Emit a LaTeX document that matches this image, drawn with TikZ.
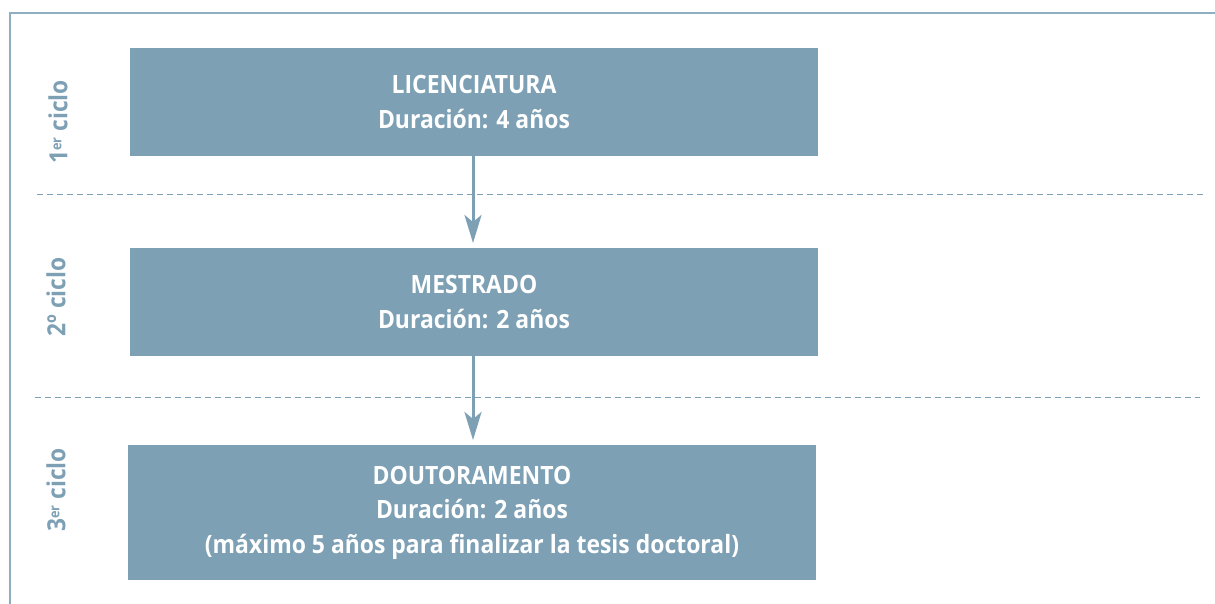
\documentclass[tikz,border=0pt]{standalone}
\usepackage{fontspec}
\setmainfont{Open Sans}
\newfontfamily\narrowfont[FakeStretch=0.91]{Open Sans}
\usetikzlibrary{arrows.meta}
\definecolor{boxblue}{HTML}{7DA0B5}
\definecolor{framecol}{HTML}{8FAEC0}
\tikzset{
  stage/.style={fill=boxblue, draw=none, minimum width=688pt, align=center,
    text=white, font=\narrowfont\bfseries\fontsize{25.2}{34.5}\selectfont, inner sep=0pt},
  cyclelabel/.style={rotate=90, text=boxblue, font=\narrowfont\bfseries\fontsize{25}{26}\selectfont, inner sep=0pt},
  sep/.style={draw=boxblue, dashed, dash pattern=on 6pt off 4pt, line width=1pt},
  flow/.style={draw=boxblue, line width=3pt, -{Stealth[length=28pt,width=17pt,inset=7pt]}},
}
\begin{document}
\begin{tikzpicture}[x=1pt,y=-1pt]
\useasboundingbox (0,0) rectangle (1215,604);
\draw[framecol, line width=1.5pt] (10,604) -- (10,13) -- (1215,13);
\node[stage, minimum height=108pt] (lic) at (474,102) {LICENCIATURA\\Duración: 4 años};
\node[stage, minimum height=108pt] (mes) at (474,302) {MESTRADO\\Duración: 2 años};
\node[stage, minimum height=135pt] (dou) at (472,512.5) {DOUTORAMENTO\\Duración: 2 años\\(máximo 5 años para finalizar la tesis doctoral)};
\coordinate (s1a) at (37,195); \coordinate (s1b) at (1203,195);
\coordinate (s2a) at (35,397); \coordinate (s2b) at (1200,397);
\draw[sep] (s1a) -- (s1b);
\draw[sep] (s2a) -- (s2b);
\coordinate (t1) at (473,243);
\coordinate (t2) at (473,440);
\draw[flow] (lic.south -| t1) -- (t1);
\draw[flow] (mes.south -| t2) -- (t2);
\node[cyclelabel] (c1) at (58,122) {1{\fontsize{14}{14}\selectfont\raisebox{6pt}{er}} ciclo};
\node[cyclelabel] (c2) at (56,297) {2º ciclo};
\node[cyclelabel] (c3) at (56,490) {3{\fontsize{14}{14}\selectfont\raisebox{6pt}{er}} ciclo};
\end{tikzpicture}
\end{document}
